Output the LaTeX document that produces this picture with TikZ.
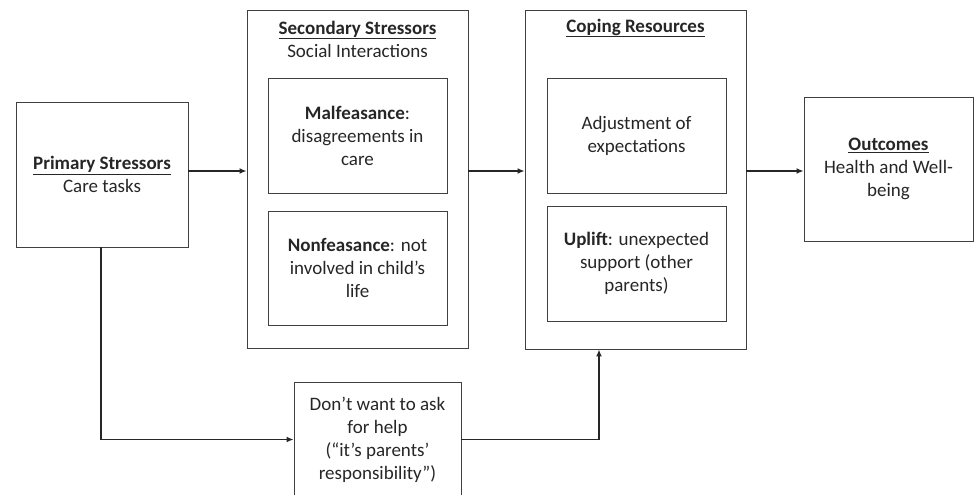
\documentclass[tikz,border=0pt]{standalone}
\usepackage{fontspec}
\setmainfont{Carlito}
\usetikzlibrary{arrows.meta,calc}
\definecolor{boxline}{HTML}{404040}
\definecolor{txt}{HTML}{262626}
\tikzset{
  box/.style={draw=boxline, line width=0.9pt, inner sep=0pt, align=center, text=txt,
    font=\fontsize{19}{23}\selectfont},
  flow/.style={draw=black!85, line width=1.6pt, -{Latex[length=7pt,width=6pt]}},
  lbl/.style={align=center, text=txt, inner sep=0pt, font=\fontsize{19}{23}\selectfont}
}
\begin{document}
\begin{tikzpicture}[x=1pt,y=-1pt]
\useasboundingbox (0,0) rectangle (974,495);
% Primary
\node[box, minimum width=172pt, minimum height=145pt] (prim) at (102,174.5)
  {\textbf{\underline{Primary Stressors}}\\Care tasks};
% Secondary
\node[box, minimum width=221pt, minimum height=338pt] (sec) at (357.5,179) {};
\node[lbl] (sectitle) at (357.5,39) {\textbf{\underline{Secondary Stressors}}\\Social Interactions};
\node[box, minimum width=179pt, minimum height=115pt] (malf) at (357.5,135.5)
  {\textbf{Malfeasance}:\\disagreements in\\care};
\node[box, minimum width=179pt, minimum height=114pt] (nonf) at (357.5,268)
  {\textbf{Nonfeasance}: not\\involved in child’s\\life};
% Coping
\node[box, minimum width=221pt, minimum height=339pt] (cope) at (635.5,179.5) {};
\node[lbl] (copetitle) at (635.5,28) {\textbf{\underline{Coping Resources}}};
\node[box, minimum width=179pt, minimum height=115pt] (adj) at (636.5,135.5)
  {Adjustment of\\expectations};
\node[box, minimum width=179pt, minimum height=115pt] (upl) at (636.5,263.5)
  {\textbf{Uplift}: unexpected\\support (other\\parents)};
% Outcomes
\node[box, minimum width=169pt, minimum height=144pt] (out) at (888.5,169)
  {\textbf{\underline{Outcomes}}\\Health and Well-\\being};
% Bottom
\node[box, minimum width=167pt, minimum height=115pt] (help) at (377.5,439.5)
  {Don’t want to ask\\for help\\(“it’s parents’\\responsibility”)};
% connectors
\coordinate (row) at (0,171);
\draw[flow] (prim.east |- row) -- (sec.west |- row);
\draw[flow] (sec.east |- row) -- (cope.west |- row);
\draw[flow] (cope.east |- row) -- (out.west |- row);
\coordinate (down) at (101,0);
\coordinate (up) at (599,0);
\draw[flow] (prim.south -| down) |- (help.west);
\draw[flow] (help.east) -| (cope.south -| up);
\end{tikzpicture}
\end{document}
